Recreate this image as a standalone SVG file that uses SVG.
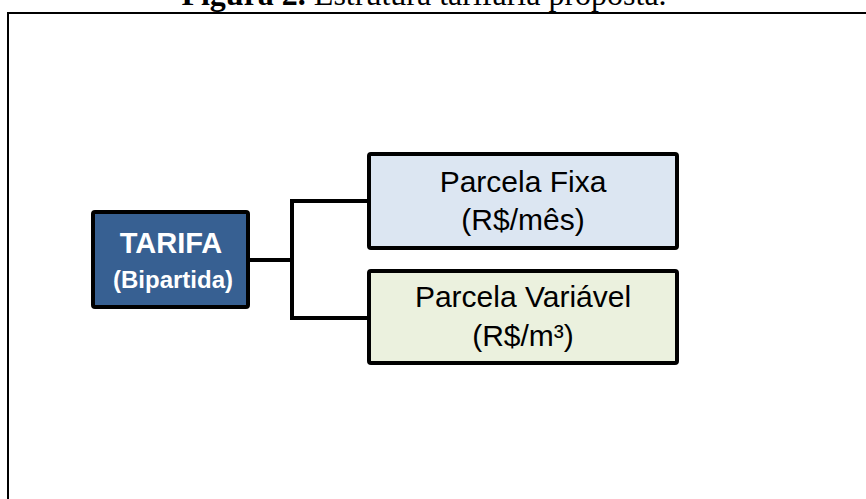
<svg xmlns="http://www.w3.org/2000/svg" width="866" height="499" viewBox="0 0 866 499">
<style>
.title{font-family:"Liberation Serif","Times New Roman",serif;font-size:32px;fill:#000}
.box{stroke:#000;stroke-width:4}
.lbl{font-family:"Liberation Sans",Arial,sans-serif;font-size:30px;fill:#000;text-anchor:middle}
.wl{font-family:"Liberation Sans",Arial,sans-serif;font-weight:bold;fill:#fff;text-anchor:middle}
.conn{fill:none;stroke:#000;stroke-width:4}
</style>
<rect width="866" height="499" fill="#fff"/>
<text class="title" x="424" y="5" text-anchor="middle"><tspan font-weight="bold">Figura 2.</tspan> Estrutura tarifária proposta.</text>
<path d="M8,520 V13 H880" fill="none" stroke="#000" stroke-width="2"/>
<g id="connectors">
<path class="conn" d="M250,260 H292"/>
<path class="conn" d="M367,201 H292 V318 H367"/>
</g>
<g id="tarifa">
<rect class="box" x="93" y="212" width="155" height="95" rx="2" fill="#376092"/>
<text class="wl" x="171" y="253" font-size="29">TARIFA</text>
<text class="wl" x="173" y="288" font-size="24">(Bipartida)</text>
</g>
<g id="fixa">
<rect class="box" x="369" y="154" width="308" height="94" rx="2" fill="#DCE6F2"/>
<text class="lbl" x="523" y="192">Parcela Fixa</text>
<text class="lbl" x="523" y="230">(R$/mês)</text>
</g>
<g id="variavel">
<rect class="box" x="369" y="271" width="308" height="92" rx="2" fill="#EBF1DE"/>
<text class="lbl" x="523" y="307">Parcela Variável</text>
<text class="lbl" x="523" y="346">(R$/m³)</text>
</g>
</svg>
